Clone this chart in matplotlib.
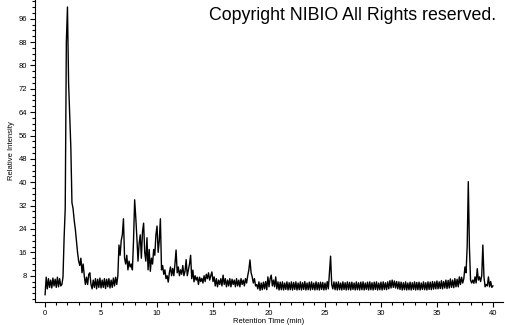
import numpy as np
import matplotlib
matplotlib.use('Agg')
import matplotlib.pyplot as plt
from matplotlib.ticker import FixedLocator, MultipleLocator

plt.rcParams['font.family'] = ['Liberation Sans', 'DejaVu Sans']

# retention time grid (min) and relative intensity
time_min = np.round(np.arange(0, 40.01, 0.1), 1)
intensity = [
    1.5, 7.5, 3.5, 7.0, 4.0, 6.5, 3.8, 7.2, 4.5, 6.8,
    4.0, 7.5, 4.2, 7.0, 4.5, 5.0, 7.5, 21.0, 31.0, 88.0,
    100.0, 74.0, 63.0, 52.0, 33.0, 31.0, 27.0, 24.0, 20.0, 16.0,
    13.0, 11.5, 14.0, 9.0, 12.0, 8.0, 5.0, 7.5, 5.0, 8.5,
    9.0, 5.0, 3.5, 6.5, 4.0, 7.0, 3.5, 6.8, 4.0, 7.2,
    3.8, 6.5, 4.0, 7.0, 3.6, 6.8, 4.2, 7.0, 3.8, 6.5,
    4.0, 7.2, 4.5, 7.5, 5.0, 8.0, 18.5, 15.0, 20.0, 22.0,
    27.5, 14.0, 12.0, 15.0, 10.0, 13.0, 11.0, 12.0, 10.0, 20.0,
    34.0, 28.0, 21.0, 13.0, 19.0, 22.0, 14.0, 23.0, 26.0, 16.0,
    13.0, 21.0, 10.0, 17.0, 9.5, 14.0, 12.0, 17.0, 15.0, 22.0,
    25.0, 16.0, 20.0, 27.5, 10.0, 11.5, 8.5, 10.0, 7.0, 8.0,
    5.8, 9.0, 11.0, 8.0, 10.5, 8.0, 12.0, 16.8, 9.0, 11.0,
    8.0, 10.0, 8.5, 11.5, 8.0, 9.5, 13.5, 8.0, 10.0, 12.0,
    15.0, 7.0, 9.9, 5.9, 8.0, 6.5, 7.5, 5.0, 7.5, 6.0,
    7.1, 5.5, 8.0, 6.0, 8.5, 7.0, 9.0, 6.5, 8.0, 9.3,
    6.0, 7.6, 4.5, 7.0, 4.2, 6.5, 5.0, 7.0, 4.5, 8.2,
    5.0, 7.0, 4.2, 6.5, 4.5, 7.0, 4.2, 6.8, 5.0, 6.5,
    4.2, 7.0, 4.5, 6.5, 4.2, 7.0, 5.0, 6.5, 4.5, 7.0,
    5.5, 8.0, 10.0, 13.4, 9.0, 7.6, 5.5, 7.0, 4.5, 5.0,
    3.5, 5.9, 3.0, 5.5, 3.2, 5.8, 3.5, 6.0, 3.2, 7.6,
    4.2, 7.0, 8.2, 4.5, 6.5, 4.2, 7.6, 3.5, 5.9, 3.1,
    5.8, 3.2, 5.9, 3.1, 5.5, 3.3, 5.9, 3.1, 5.6, 3.2,
    5.9, 3.1, 5.7, 3.3, 5.9, 3.1, 5.5, 3.2, 5.9, 3.1,
    5.6, 3.3, 6.0, 3.1, 5.5, 3.2, 5.8, 3.1, 5.9, 3.3,
    5.5, 3.1, 5.9, 3.2, 5.6, 3.1, 5.8, 3.3, 5.7, 3.1,
    5.5, 3.2, 6.0, 3.5, 9.0, 14.7, 5.0, 3.5, 5.9, 3.2,
    5.8, 3.1, 5.9, 3.2, 5.5, 3.1, 5.9, 3.3, 5.6, 3.1,
    5.9, 3.2, 5.7, 3.1, 5.8, 3.3, 5.5, 3.1, 5.9, 3.2,
    5.6, 3.1, 5.8, 3.2, 5.9, 3.1, 5.5, 3.3, 5.8, 3.1,
    5.9, 3.2, 5.6, 3.1, 5.8, 3.3, 5.9, 3.1, 5.5, 3.2,
    5.8, 3.1, 5.9, 3.3, 5.6, 3.2, 5.9, 3.5, 6.3, 3.8,
    6.5, 4.0, 6.2, 3.8, 6.0, 3.5, 5.9, 3.3, 5.8, 3.1,
    5.6, 3.2, 5.9, 3.1, 5.5, 3.2, 5.8, 3.1, 5.6, 3.3,
    5.9, 3.1, 5.7, 3.2, 5.8, 3.1, 5.5, 3.3, 5.9, 3.2,
    5.6, 3.1, 5.9, 3.3, 5.8, 3.2, 6.0, 3.4, 5.9, 3.5,
    6.2, 3.5, 5.9, 3.6, 6.3, 3.5, 6.0, 3.8, 6.5, 3.6,
    6.4, 3.8, 6.9, 4.0, 6.5, 3.9, 7.0, 4.2, 6.8, 4.2,
    7.6, 5.0, 7.5, 5.5, 7.0, 11.0, 9.0, 17.9, 40.2, 17.9,
    6.5, 5.5, 6.5, 5.4, 7.6, 5.5, 10.4, 6.5, 7.6, 6.0,
    8.0, 18.5, 7.6, 4.2, 5.0, 4.5, 7.6, 4.2, 6.0, 4.0,
    4.5,
]
y_ticks = [8, 16, 24, 32, 40, 48, 56, 64, 72, 80, 88, 96]
x_ticks = [0, 5, 10, 15, 20, 25, 30, 35, 40]

fig = plt.figure(figsize=(5.05, 3.25), dpi=100)
ax = fig.add_axes([35 / 505, 23 / 325, 468 / 505, 302 / 325])
ax.plot(time_min, intensity, color='black', linewidth=1.0)

ax.set_xlim(-0.9, 40.9)
ax.set_ylim(-1.0, 102.4)
ax.xaxis.set_major_locator(FixedLocator(x_ticks))
ax.xaxis.set_minor_locator(MultipleLocator(1))
ax.yaxis.set_major_locator(FixedLocator(y_ticks))
ax.yaxis.set_minor_locator(MultipleLocator(2))
ax.tick_params(which='both', direction='out', width=0.8, labelsize=5.5, pad=2)
ax.tick_params(which='major', length=3.5)
ax.tick_params(which='minor', length=2.5)

for side in ['top', 'right']:
    ax.spines[side].set_visible(False)
ax.spines['left'].set_linewidth(0.8)
ax.spines['bottom'].set_linewidth(0.8)

ax.set_xlabel('Retention Time (min)', fontsize=5.5, labelpad=1)
ax.set_ylabel('Relative Intensity', fontsize=5.5, labelpad=3)

fig.text(496 / 505, 1 - 15 / 325, 'Copyright NIBIO All Rights reserved.',
         ha='right', va='center', fontsize=12.8)

fig.savefig('out.png', dpi=100)
